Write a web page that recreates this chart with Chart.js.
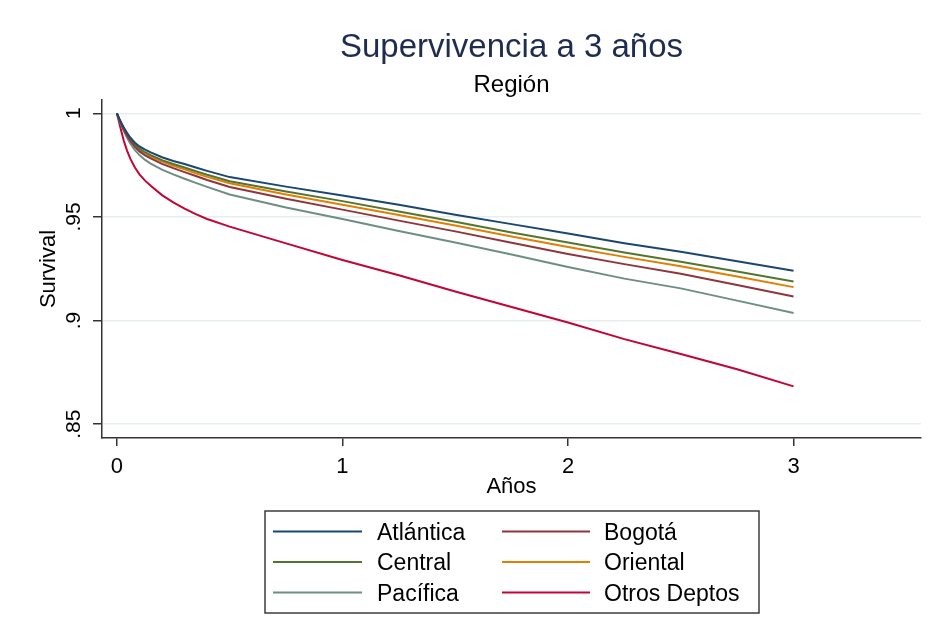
<!DOCTYPE html>
<html>
<head>
<meta charset="utf-8">
<script src="https://cdn.jsdelivr.net/npm/chart.js@4.4.1/dist/chart.umd.min.js"></script>
<style>
  html, body { margin: 0; padding: 0; background: #ffffff; }
  #wrap { width: 935px; height: 641px; }
</style>
</head>
<body>
<div id="wrap"><canvas id="c" width="935" height="641"></canvas></div>
<script>
// Kaplan-Meier survival by region, time in years
const years = [0, 0.01, 0.02, 0.03, 0.045, 0.06, 0.08, 0.1, 0.125, 0.15, 0.2, 0.25, 0.3, 0.35, 0.4, 0.5,
               0.75, 1.0, 1.25, 1.5, 1.75, 2.0, 2.25, 2.5, 2.75, 3.0];

const atlantica = [1, 0.9975, 0.9953, 0.9933, 0.9905, 0.9882, 0.9858, 0.9840, 0.9824, 0.9811, 0.9788, 0.9770, 0.9755, 0.9738, 0.9722, 0.9692,
                   0.9646, 0.9603, 0.9558, 0.9510, 0.9465, 0.9420, 0.9373, 0.9332, 0.9286, 0.9240];
const bogota    = [1, 0.9971, 0.9946, 0.9923, 0.9892, 0.9866, 0.9838, 0.9816, 0.9797, 0.9782, 0.9756, 0.9735, 0.9716, 0.9697, 0.9678, 0.9644,
                   0.9587, 0.9535, 0.9482, 0.9430, 0.9375, 0.9321, 0.9272, 0.9226, 0.9171, 0.9116];
const central   = [1, 0.9973, 0.9950, 0.9929, 0.9900, 0.9875, 0.9850, 0.9829, 0.9812, 0.9798, 0.9774, 0.9755, 0.9738, 0.9720, 0.9703, 0.9672,
                   0.9622, 0.9576, 0.9526, 0.9476, 0.9425, 0.9376, 0.9328, 0.9284, 0.9236, 0.9188];
const oriental  = [1, 0.9972, 0.9949, 0.9927, 0.9897, 0.9872, 0.9846, 0.9825, 0.9807, 0.9792, 0.9767, 0.9747, 0.9729, 0.9710, 0.9693, 0.9662,
                   0.9608, 0.9559, 0.9509, 0.9458, 0.9405, 0.9355, 0.9307, 0.9262, 0.9212, 0.9161];
const pacifica  = [1, 0.9968, 0.9941, 0.9916, 0.9882, 0.9853, 0.9822, 0.9798, 0.9775, 0.9757, 0.9728, 0.9705, 0.9684, 0.9664, 0.9645, 0.9608,
                   0.9545, 0.9490, 0.9432, 0.9376, 0.9318, 0.9258, 0.9202, 0.9155, 0.9096, 0.9036];
const otros     = [1, 0.9955, 0.9912, 0.9870, 0.9820, 0.9780, 0.9738, 0.9705, 0.9675, 0.9650, 0.9605, 0.9570, 0.9540, 0.9513, 0.9490, 0.9453,
                   0.9372, 0.9292, 0.9218, 0.9140, 0.9065, 0.8990, 0.8910, 0.8838, 0.8765, 0.8682];

const regionNames = ['Atlántica', 'Bogotá', 'Central', 'Oriental', 'Pacífica', 'Otros Deptos'];
const regionSeries = [atlantica, bogota, central, oriental, pacifica, otros];
const regionColors = ['#1a476f', '#90353b', '#55752f', '#e37e00', '#6e8e84', '#c10534'];

const xTicks = [0, 1, 2, 3];
const xTickLabels = ['0', '1', '2', '3'];
const yTicks = [0.85, 0.9, 0.95, 1];
const yTickLabels = ['.85', '.9', '.95', '1'];

const titleText = 'Supervivencia a 3 años';
const subtitleText = 'Región';
const xTitleText = 'Años';
const yTitleText = 'Survival';

const FONT = '"Liberation Sans", Arial, Helvetica, sans-serif';
Chart.defaults.font.family = FONT;
Chart.defaults.color = '#000000';

const datasets = regionNames.map((name, i) => ({
  label: name,
  data: years.map((t, j) => ({ x: t, y: regionSeries[i][j] })),
  borderColor: regionColors[i],
  backgroundColor: regionColors[i],
  borderWidth: 2,
  pointRadius: 0,
  tension: 0,
  fill: false
}));

// Titles and the boxed two-column legend
const decorations = {
  id: 'decorations',
  afterDraw(chart) {
    const ctx = chart.ctx;
    const area = chart.chartArea;
    const cx = (area.left + area.right) / 2;
    ctx.save();
    ctx.textAlign = 'center';
    ctx.textBaseline = 'alphabetic';
    ctx.fillStyle = '#1e2d4f';
    ctx.font = '33px ' + FONT;
    ctx.fillText(titleText, cx, 57);
    ctx.fillStyle = '#000000';
    ctx.font = '24px ' + FONT;
    ctx.fillText(subtitleText, cx, 92);

    // legend box
    const box = { left: 265, top: 511, right: 759, bottom: 613 };
    ctx.fillStyle = '#ffffff';
    ctx.fillRect(box.left, box.top, box.right - box.left, box.bottom - box.top);
    ctx.strokeStyle = '#3c3c3c';
    ctx.lineWidth = 1.5;
    ctx.strokeRect(box.left, box.top, box.right - box.left, box.bottom - box.top);

    const colLine = [[273, 362], [502, 590]];
    const colText = [377, 604];
    const rowY = [531.5, 562, 592.5];
    ctx.font = '23px ' + FONT;
    ctx.textAlign = 'left';
    chart.data.datasets.forEach((ds, i) => {
      const col = i % 2, row = Math.floor(i / 2);
      const y = rowY[row];
      ctx.strokeStyle = ds.borderColor;
      ctx.lineWidth = 2;
      ctx.beginPath();
      ctx.moveTo(colLine[col][0], y);
      ctx.lineTo(colLine[col][1], y);
      ctx.stroke();
      ctx.fillStyle = '#000000';
      ctx.fillText(ds.label, colText[col], y + 8);
    });
    ctx.restore();
  }
};

new Chart(document.getElementById('c'), {
  type: 'line',
  data: { datasets },
  plugins: [decorations],
  options: {
    responsive: false,
    animation: false,
    devicePixelRatio: 1,
    layout: { padding: { left: 0, right: 14, top: 100, bottom: 141 } },
    plugins: {
      legend: { display: false },
      title: { display: false },
      tooltip: { enabled: false }
    },
    scales: {
      x: {
        type: 'linear',
        min: -0.066,
        max: 3.565,
        afterFit: s => { s.height = 62; },
        afterBuildTicks: s => { s.ticks = xTicks.map(v => ({ value: v })); },
        border: { display: true, color: '#333333', width: 1.5 },
        grid: { drawOnChartArea: false, drawTicks: true, tickLength: 8, tickColor: '#333333', lineWidth: 1.5 },
        ticks: {
          padding: 8,
          font: { size: 22 },
          color: '#000000',
          maxRotation: 0,
          callback: (v) => xTickLabels[xTicks.indexOf(v)]
        },
        title: { display: true, text: xTitleText, font: { size: 22 }, color: '#000000', padding: { top: 0, bottom: 0 } }
      },
      y: {
        type: 'linear',
        min: 0.8433,
        max: 1.0064,
        afterFit: s => { s.width = 102; },
        afterBuildTicks: s => { s.ticks = yTicks.map(v => ({ value: v })); },
        border: { display: true, color: '#333333', width: 1.5 },
        grid: { drawOnChartArea: true, color: '#e6eef0', lineWidth: 1.5, drawTicks: true, tickLength: 9, tickColor: '#333333' },
        ticks: {
          padding: 4,
          font: { size: 21 },
          color: '#000000',
          minRotation: 90,
          maxRotation: 90,
          crossAlign: 'center',
          callback: (v) => yTickLabels[yTicks.indexOf(v)]
        },
        title: { display: true, text: yTitleText, font: { size: 22 }, color: '#000000', padding: { top: 36, bottom: 0 } }
      }
    }
  }
});
</script>
</body>
</html>
